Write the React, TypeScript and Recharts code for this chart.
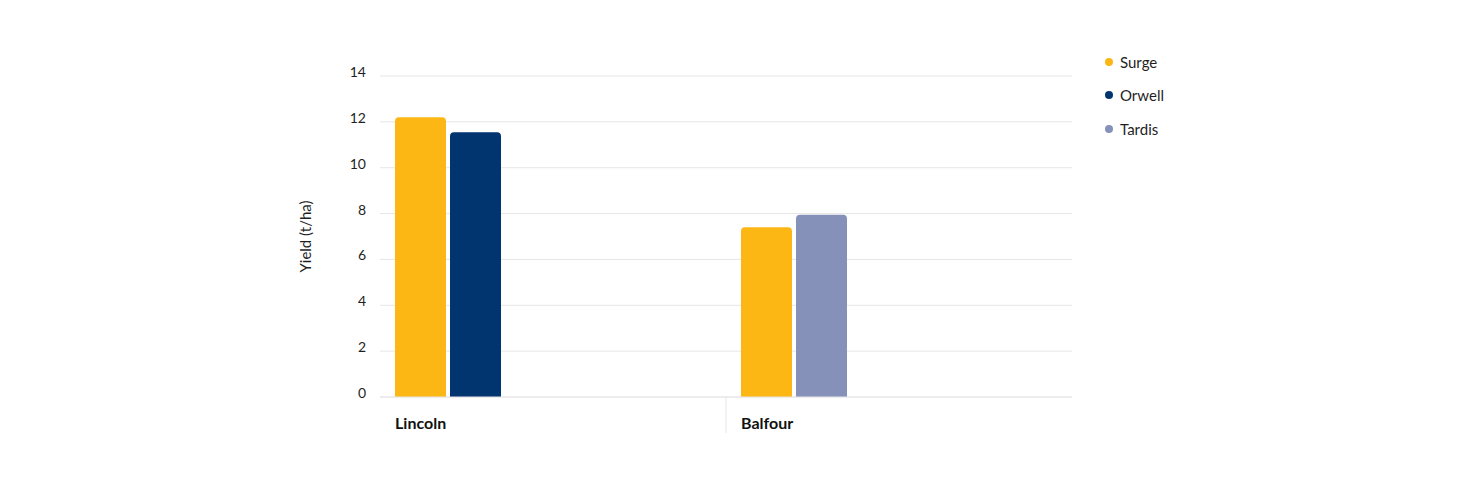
import { BarChart, Bar, Cell, XAxis, YAxis, CartesianGrid, Legend } from 'recharts'

const categories = ['Lincoln', 'Balfour']
const surgeValues = [12.2, 7.4]
const orwellValues: (number | null)[] = [11.55, null]
const tardisValues: (number | null)[] = [null, 7.95]
const yTicks = [0, 2, 4, 6, 8, 10, 12, 14]

const seriesNames = ['Surge', 'Orwell', 'Tardis']
const SURGE = '#fdb714'
const ORWELL = '#00356f'
const TARDIS = '#8691b9'
const seriesColors = [SURGE, ORWELL, TARDIS]

const GRID = '#e6e6e6'
const TEXT = '#1f1f1f'
const FONT = "Lato, 'Open Sans', sans-serif"

// each site only trialled two varieties, so bars sit in two slots per site
const data = categories.map((name, i) => ({
  name,
  first: surgeValues[i],
  second: orwellValues[i] ?? tardisValues[i],
  secondColor: orwellValues[i] != null ? ORWELL : TARDIS,
  pad: null,
}))

function YTick({ x, y, payload }: any) {
  return (
    <text x={x} y={y + 1} textAnchor="end" fontSize={14} fill={TEXT} fontFamily={FONT}>
      {payload.value}
    </text>
  )
}

function XTick({ x, y, payload }: any) {
  const half = payload.offset ?? 173
  const left = x - half
  return (
    <g>
      <text x={left + 15} y={y + 32} fontSize={16} fontWeight={700} fill="#111" fontFamily={FONT}>
        {payload.value}
      </text>
      {payload.index < categories.length - 1 && (
        <line x1={x + half} x2={x + half} y1={y} y2={y + 36} stroke={GRID} strokeWidth={1} />
      )}
    </g>
  )
}

function LegendContent() {
  return (
    <div style={{ fontFamily: FONT, fontSize: 15, color: TEXT }}>
      {seriesNames.map((s, i) => (
        <div key={s} style={{ display: 'flex', alignItems: 'center', height: 33.5 }}>
          <span
            style={{
              display: 'inline-block',
              width: 8,
              height: 8,
              borderRadius: '50%',
              backgroundColor: seriesColors[i],
              marginLeft: 5,
              marginRight: 7,
            }}
          />
          {s}
        </div>
      ))}
    </div>
  )
}

export default function App() {
  return (
    <div style={{ position: 'absolute', left: 0, top: 0, width: 1460, height: 488, background: '#fff' }}>
      <BarChart
        width={1460}
        height={488}
        data={data}
        margin={{ top: 76, right: 268, bottom: 0, left: 232 }}
        barGap={4}
      >
        <CartesianGrid vertical={false} stroke={GRID} />
        <XAxis
          dataKey="name"
          height={91}
          axisLine={{ stroke: GRID }}
          tickLine={false}
          tickSize={0}
          tickMargin={0}
          tick={<XTick />}
          interval={0}
        />
        <YAxis
          width={148}
          domain={[0, 14]}
          ticks={yTicks}
          axisLine={false}
          tickLine={false}
          tickSize={0}
          tickMargin={14}
          tick={<YTick />}
          label={{
            value: 'Yield (t/ha)',
            angle: -90,
            position: 'center',
            style: { fontSize: 15, fill: TEXT, fontFamily: FONT },
          }}
        />
        <Legend
          layout="vertical"
          align="right"
          verticalAlign="top"
          content={<LegendContent />}
          wrapperStyle={{ left: 1100, top: 45, width: 120, right: 'auto', bottom: 'auto' }}
        />
        <Bar dataKey="first" fill={SURGE} barSize={51} radius={[4, 4, 0, 0]} isAnimationActive={false} />
        <Bar dataKey="second" barSize={51} radius={[4, 4, 0, 0]} isAnimationActive={false}>
          {data.map((d) => (
            <Cell key={d.name} fill={d.secondColor} />
          ))}
        </Bar>
        <Bar dataKey="pad" barSize={206} legendType="none" isAnimationActive={false} />
      </BarChart>
    </div>
  )
}
